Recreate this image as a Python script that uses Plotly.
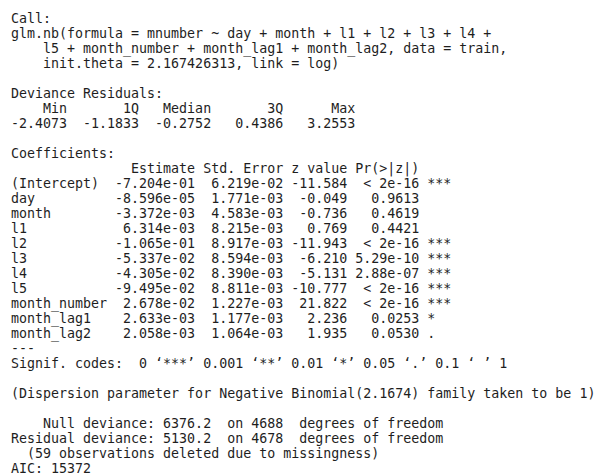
import plotly.graph_objects as go

resid_labels = ["Min", "1Q", "Median", "3Q", "Max"]
resid_values = [-2.4073, -1.1833, -0.2752, 0.4386, 3.2553]

coef_names = ["(Intercept)", "day", "month", "l1", "l2", "l3", "l4", "l5",
              "month_number", "month_lag1", "month_lag2"]
estimates = [-7.204e-01, -8.596e-05, -3.372e-03, 6.314e-03, -1.065e-01,
             -5.337e-02, -4.305e-02, -9.495e-02, 2.678e-02, 2.633e-03, 2.058e-03]
std_errors = [6.219e-02, 1.771e-03, 4.583e-03, 8.215e-03, 8.917e-03,
              8.594e-03, 8.390e-03, 8.811e-03, 1.227e-03, 1.177e-03, 1.064e-03]
z_values = [-11.584, -0.049, -0.736, 0.769, -11.943,
            -6.210, -5.131, -10.777, 21.822, 2.236, 1.935]
# 0.0 stands for the ones printed as "< 2e-16"
p_values = [0.0, 0.9613, 0.4619, 0.4421, 0.0,
            5.29e-10, 2.88e-07, 0.0, 0.0, 0.0253, 0.0530]

theta = 2.167426313
null_dev, null_df = 6376.2, 4688
resid_dev, resid_df = 5130.2, 4678
n_missing = 59
aic = 15372


def fmt_p(p):
    if p < 2e-16:
        return "< 2e-16"
    if p < 1e-4:
        return f"{p:.2e}"
    return f"{p:.4f}"


def stars(p):
    if p < 0.001:
        return "***"
    if p < 0.01:
        return "**"
    if p < 0.05:
        return "*"
    if p < 0.1:
        return "."
    return " "


lines = [
    "Call:",
    "glm.nb(formula = mnumber ~ day + month + l1 + l2 + l3 + l4 + ",
    "    l5 + month_number + month_lag1 + month_lag2, data = train, ",
    f"    init.theta = {theta}, link = log)",
    "",
    "Deviance Residuals: ",
    "  ".join(f"{lab:>7}" for lab in resid_labels) + "  ",
    "  ".join(f"{v:7.4f}" for v in resid_values) + "  ",
    "",
    "Coefficients:",
    " " * 12 + " " + f"{'Estimate':>10} Std. Error z value Pr(>|z|)    ",
]
for name, est, se, z, p in zip(coef_names, estimates, std_errors, z_values, p_values):
    lines.append(f"{name:<12} {est: .3e} {se: .3e} {z:7.3f} {fmt_p(p):>8} {stars(p)}")
lines += [
    "---",
    "Signif. codes:  0 \u2018***\u2019 0.001 \u2018**\u2019 0.01 \u2018*\u2019 0.05 \u2018.\u2019 0.1 \u2018 \u2019 1",
    "",
    f"(Dispersion parameter for Negative Binomial({theta:.4f}) family taken to be 1)",
    "",
    f"    Null deviance: {null_dev:.1f}  on {null_df}  degrees of freedom",
    f"Residual deviance: {resid_dev:.1f}  on {resid_df}  degrees of freedom",
    f"  ({n_missing} observations deleted due to missingness)",
    f"AIC: {aic}",
]


def to_svg_text(s):
    # keep the console alignment: escape tags, hard spaces
    s = s.replace("&", "&amp;").replace("<", "&lt;").replace(">", "&gt;")
    return s.replace(" ", "\u00a0")


fig = go.Figure()
fig.add_trace(go.Scatter(
    x=[0] * len(lines),
    y=list(range(len(lines))),
    text=[to_svg_text(s) for s in lines],
    mode="text",
    textposition="middle right",
    textfont=dict(family="DejaVu Sans Mono", size=13.3, color="#1e1e1e"),
    hoverinfo="skip",
    showlegend=False,
))
fig.update_layout(
    width=605,
    height=475,
    margin=dict(l=0, r=0, t=0, b=0),
    paper_bgcolor="white",
    plot_bgcolor="white",
    xaxis=dict(range=[-0.375, 75.25], visible=False, fixedrange=True),
    yaxis=dict(range=[30.87, -0.8], visible=False, fixedrange=True),
)
fig.write_html("out.html", config={"displayModeBar": False})
